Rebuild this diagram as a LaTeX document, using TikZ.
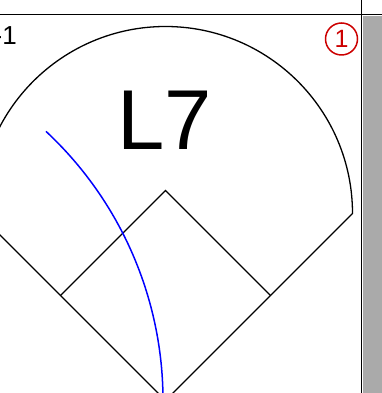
\documentclass[tikz,border=0pt]{standalone}
\usepackage{fontspec}
\setmainfont{Liberation Sans}
\definecolor{markred}{HTML}{CC0000}
\definecolor{bargray}{HTML}{AAAAAA}
\begin{document}
\begin{tikzpicture}[x=1pt, y=1pt,
    field/.style={line width=1.3pt, black},
    hit/.style={line width=1.5pt, blue}]
    \useasboundingbox (0,0) rectangle (382,393);
    \clip (0,0) rectangle (382,393);

    % frame
    \fill[bargray] (363,0) rectangle (382,377);
    \draw[line width=1pt] (0,378) -- (382,378);
    \draw[line width=1.8pt] (361.5,0) -- (361.5,393);

    % bases
    \coordinate (home) at (165.5,-7.5);
    \coordinate (first) at (270.5,97.5);
    \coordinate (second) at (165.5,202.5);
    \coordinate (third) at (60.5,97.5);
    \coordinate (rpole) at (352.5,179.5);
    \coordinate (lpole) at (-21.5,179.5);

    % field
    \draw[field] (third) -- (second) -- (first);
    \draw[field] (lpole) -- (home) -- (rpole)
      arc[start angle=0, end angle=180, radius=187];

    % ball path
    \draw[hit] (163,-7.5) arc[start angle=0, end angle=47, radius=368];

    % labels
    \node[anchor=base, inner sep=0pt, font=\fontsize{85}{85}\selectfont] (zone) at (165,243) {L7};
    \node[anchor=base east, inner sep=0pt, font=\fontsize{26}{26}\selectfont] (count) at (17,348) {-1};
    \node[draw=markred, text=markred, circle, line width=1.5pt, minimum size=32pt,
      inner sep=0pt, font=\fontsize{25}{25}\selectfont] (mark) at (341.5,354) {1};
\end{tikzpicture}
\end{document}
